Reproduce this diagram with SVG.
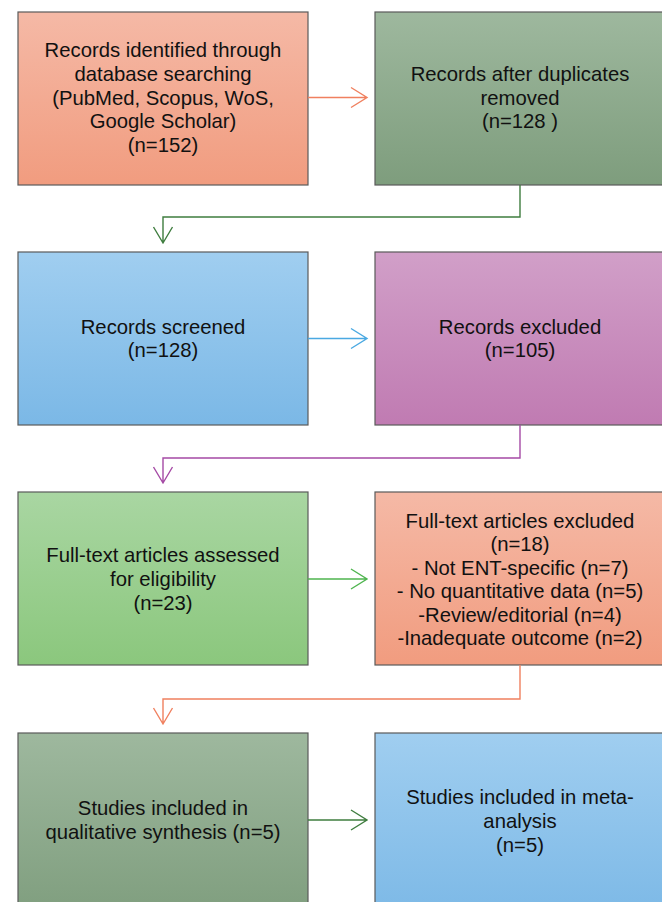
<svg xmlns="http://www.w3.org/2000/svg" width="662" height="902" viewBox="0 0 662 902">
<defs>
<linearGradient id="gOrange" x1="0" y1="0" x2="0" y2="1"><stop offset="0" stop-color="#f5b9a6"/><stop offset="1" stop-color="#f19c7f"/></linearGradient>
<linearGradient id="gSage" x1="0" y1="0" x2="0" y2="1"><stop offset="0" stop-color="#9eb89e"/><stop offset="1" stop-color="#7e9d7d"/></linearGradient>
<linearGradient id="gBlue" x1="0" y1="0" x2="0" y2="1"><stop offset="0" stop-color="#a0cef0"/><stop offset="1" stop-color="#7bb8e6"/></linearGradient>
<linearGradient id="gPurple" x1="0" y1="0" x2="0" y2="1"><stop offset="0" stop-color="#d19fc8"/><stop offset="1" stop-color="#c07bb2"/></linearGradient>
<linearGradient id="gGreen" x1="0" y1="0" x2="0" y2="1"><stop offset="0" stop-color="#a9d6a2"/><stop offset="1" stop-color="#8bc77d"/></linearGradient>
</defs>
<style>
.box{stroke:#5a5a5a;stroke-width:1.2}
.t{font-family:"Liberation Sans",Arial,sans-serif;font-size:20.3px;fill:#111;text-anchor:middle}
.c{fill:none;stroke-width:1.4}
</style>
<rect width="662" height="902" fill="#ffffff"/>
<g id="n1"><rect class="box" x="18" y="12" width="290" height="173" fill="url(#gOrange)"/>
<text class="t"><tspan x="163" y="57">Records identified through</tspan><tspan x="163" y="81">database searching</tspan><tspan x="163" y="105">(PubMed, Scopus, WoS,</tspan><tspan x="163" y="128">Google Scholar)</tspan><tspan x="163" y="152">(n=152)</tspan></text></g>
<g id="n2"><rect class="box" x="375" y="12" width="300" height="173" fill="url(#gSage)"/>
<text class="t"><tspan x="520" y="81">Records after duplicates</tspan><tspan x="520" y="105">removed</tspan><tspan x="520" y="128">(n=128 )</tspan></text></g>
<g id="n3"><rect class="box" x="18" y="252" width="290" height="173" fill="url(#gBlue)"/>
<text class="t"><tspan x="163" y="334">Records screened</tspan><tspan x="163" y="357">(n=128)</tspan></text></g>
<g id="n4"><rect class="box" x="375" y="252" width="300" height="173" fill="url(#gPurple)"/>
<text class="t"><tspan x="520" y="334">Records excluded</tspan><tspan x="520" y="357">(n=105)</tspan></text></g>
<g id="n5"><rect class="box" x="18" y="492" width="290" height="173" fill="url(#gGreen)"/>
<text class="t"><tspan x="163" y="562">Full-text articles assessed</tspan><tspan x="163" y="586">for eligibility</tspan><tspan x="163" y="610">(n=23)</tspan></text></g>
<g id="n6"><rect class="box" x="375" y="492" width="300" height="173" fill="url(#gOrange)"/>
<text class="t"><tspan x="520" y="528">Full-text articles excluded</tspan><tspan x="520" y="551">(n=18)</tspan><tspan x="520" y="575">- Not ENT-specific (n=7)</tspan><tspan x="520" y="598">- No quantitative data (n=5)</tspan><tspan x="520" y="622">-Review/editorial (n=4)</tspan><tspan x="520" y="645">-Inadequate outcome (n=2)</tspan></text></g>
<g id="n7"><rect class="box" x="18" y="733" width="290" height="190" fill="url(#gSage)"/>
<text class="t"><tspan x="163" y="815">Studies included in</tspan><tspan x="163" y="839">qualitative synthesis (n=5)</tspan></text></g>
<g id="n8"><rect class="box" x="375" y="733" width="300" height="190" fill="url(#gBlue)"/>
<text class="t"><tspan x="520" y="804">Studies included in meta-</tspan><tspan x="520" y="828">analysis</tspan><tspan x="520" y="852">(n=5)</tspan></text></g>
<g id="connectors">
<path class="c" stroke="#f0805f" d="M308 97.5H367M351 87.5L367 97.5L351 107.5"/>
<path class="c" stroke="#3f7d3f" d="M520 185V217H163V243M153.5 227L163 243L172.5 227"/>
<path class="c" stroke="#4aa9e2" d="M308 338.5H367M351 328.5L367 338.5L351 348.5"/>
<path class="c" stroke="#a54aa5" d="M520 425V458H163V483M153.5 467L163 483L172.5 467"/>
<path class="c" stroke="#4fb54f" d="M308 579H367M351 569L367 579L351 589"/>
<path class="c" stroke="#f0805f" d="M520 665V699H163V724M153.5 708L163 724L172.5 708"/>
<path class="c" stroke="#3f7d3f" d="M308 820H367M351 810L367 820L351 830"/>
</g>
</svg>
